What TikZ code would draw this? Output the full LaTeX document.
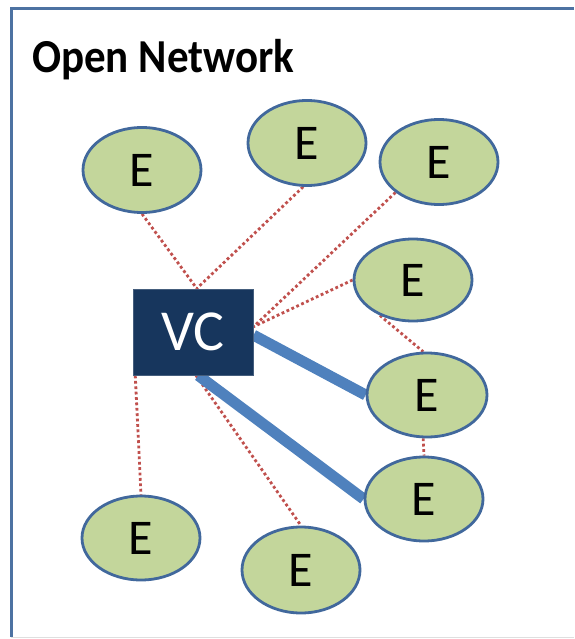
\documentclass[tikz,border=0pt]{standalone}
\usepackage{fontspec}
\setmainfont{Carlito}
\usetikzlibrary{shapes.geometric,backgrounds}
\definecolor{framecol}{HTML}{4D72A2}
\definecolor{vcfill}{HTML}{17365D}
\definecolor{efill}{HTML}{C3D69B}
\definecolor{eline}{HTML}{41689C}
\definecolor{dotred}{HTML}{C0504D}
\definecolor{linkblue}{HTML}{4F81BD}
\tikzset{
  endpt/.style={ellipse, draw=eline, line width=2.8pt, fill=efill, inner sep=0pt,
    minimum width=118pt, minimum height=85pt,
    font=\fontsize{50}{54}\selectfont, text=black},
  vcbox/.style={rectangle, draw=vcfill!80!white, line width=1pt, fill=vcfill, inner sep=0pt,
    minimum width=120pt, minimum height=86pt,
    font=\fontsize{58}{62}\selectfont, text=white},
  weak/.style={draw=dotred, line width=2.8pt, dash pattern=on 2.8pt off 2.6pt},
  strong/.style={draw=linkblue, line width=11pt},
}
\begin{document}
\begin{tikzpicture}[x=1pt,y=-1pt]
\useasboundingbox (0,0) rectangle (574,639);
% outer panel
\draw[line width=0.8pt, draw=gray!25] (11,637.5) -- (574,637.5);
\draw[line width=3pt, draw=framecol] (11,637) -- (11,9) -- (574,9);
\node[anchor=base west, inner sep=0pt, font=\fontsize{43}{48}\selectfont\bfseries] (title) at (32,73) {\scalebox{1}[1.1]{Open Network}};

% hub and end points
\node[vcbox] (vc) at (193,332) {VC};
\node[endpt] (e1) at (142,170) {E};
\node[endpt] (e2) at (307,143) {E};
\node[endpt] (e3) at (439,162) {E};
\node[endpt, minimum height=82pt] (e4) at (413,280) {E};
\node[endpt, minimum width=120pt, minimum height=84pt] (e5) at (427,395) {E};
\node[endpt, minimum height=84pt] (e6) at (424,499) {E};
\node[endpt, minimum height=84pt] (e7) at (141,538) {E};
\node[endpt, minimum height=86pt] (e8) at (301,570) {E};

% links
\begin{scope}[on background layer]
\draw[weak] (e1.south) -- (vc.85);
\draw[weak] (e2.265) -- (vc.85);
\draw[weak] (e3.215) -- (vc.5);
\draw[weak] (e4.west) -- (vc.5);
\draw[weak] (e4.227) -- (e5.95);
\draw[weak] (e5.265) -- (e6.north);
\draw[weak] (vc.-143) -- (e7.north);
\draw[weak] (vc.-86) -- (e8.north);
\draw[strong] (vc.-3) -- (e5.west);
\draw[strong] (vc.-83) -- (e6.west);
\end{scope}
\end{tikzpicture}
\end{document}
